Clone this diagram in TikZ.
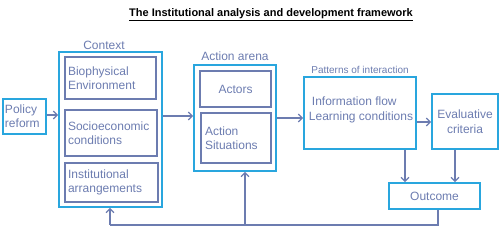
\documentclass[tikz,border=0pt]{standalone}
\usepackage{fontspec}
\setsansfont{Liberation Sans}
\usetikzlibrary{arrows.meta,calc}

\begin{document}
\begin{tikzpicture}[x=1pt,y=-1pt,>={Straight Barb[length=4pt,width=8pt]},font=\sffamily]
\definecolor{frame}{RGB}{41,166,222}
\definecolor{slate}{RGB}{108,124,176}
\tikzset{
  outerbox/.style={draw=frame,line width=1.6pt,inner sep=0pt},
  innerbox/.style={draw=slate,line width=1.5pt,text=slate,inner sep=0pt,
    font=\sffamily\fontsize{12}{14}\selectfont},
  heading/.style={text=slate,font=\sffamily\fontsize{12}{14}\selectfont},
  link/.style={->,draw=slate,line width=1.3pt}
}
\useasboundingbox (0,0) rectangle (500,229);

% Title.
\node[font=\sffamily\bfseries\fontsize{11}{13}\selectfont] (title) at (271,15)
  {\underline{The Institutional analysis and development framework}};

% Policy reform.
\node[outerbox,innerbox,draw=frame,minimum width=43pt,minimum height=35pt,
  text width=39pt,align=left] (policy) at (24.5,116.5) {Policy\\reform};

% Context with its three parts.
\node[outerbox,minimum width=103pt,minimum height=155pt] (context) at (110.5,129.5) {};
\node[heading] (contextlbl) at (104,45) {Context};
\node[innerbox,minimum width=91pt,minimum height=42pt,text width=85pt,align=left]
  (bio) at (110.5,78) {Biophysical\\Environment};
\node[innerbox,minimum width=92pt,minimum height=46pt,text width=86pt,align=left]
  (socio) at (111,133) {Socioeconomic\\conditions};
\node[innerbox,minimum width=93pt,minimum height=39pt,text width=87pt,align=left]
  (inst) at (111.5,182.5) {Institutional\\arrangements};

% Action arena.
\node[outerbox,minimum width=82pt,minimum height=106pt] (arena) at (235,118) {};
\node[heading] (arenalbl) at (235,56) {Action arena};
\node[innerbox,minimum width=71pt,minimum height=36pt] (actors) at (235.5,89) {Actors};
\node[innerbox,minimum width=70pt,minimum height=50pt,text width=62pt,align=left]
  (situations) at (236,138) {Action\\Situations};

% Patterns of interaction.
\node[outerbox,minimum width=112pt,minimum height=72pt] (patterns) at (360,113) {};
\node[text=slate,font=\sffamily\fontsize{10}{12}\selectfont] (patternslbl) at (360,70)
  {Patterns of interaction};
\node[text=slate,font=\sffamily\fontsize{12}{15}\selectfont,align=left,inner sep=0pt]
  (patternstxt) at (361,109.5) {\hspace*{3pt}Information flow\\Learning conditions};

% Evaluative criteria and outcome.
\node[outerbox,minimum width=66pt,minimum height=55pt,text=slate,align=center,
  font=\sffamily\fontsize{12}{15}\selectfont] (criteria) at (465,121.5)
  {Evaluative\\criteria};
\node[outerbox,minimum width=91pt,minimum height=26pt,text=slate,
  font=\sffamily\fontsize{12}{14}\selectfont] (outcome) at (434.5,196) {Outcome};

% Forward links.
\draw[link] (policy.east |- 0,115) -- (context.west |- 0,115);
\draw[link] (context.east |- 0,116) -- (arena.west |- 0,116);
\draw[link] (arena.east |- 0,118) -- (patterns.west |- 0,118);
\draw[link] (patterns.east |- 0,122) -- (criteria.west |- 0,122);
\draw[link] (patterns.south -| 405,0) -- (outcome.north -| 405,0);
\draw[link] (criteria.south -| 455,0) -- (outcome.north -| 455,0);

% Feedback to the context and the action arena.
\coordinate (loopright) at (438,225);
\coordinate (loopleft) at (110,225);
\coordinate (loopmid) at (245,225);
\draw[draw=slate,line width=1.3pt] (outcome.south -| loopright) -- (loopright) -- (loopleft);
\draw[link] (loopleft) -- (context.south -| loopleft);
\draw[link] (loopmid) -- (arena.south -| loopmid);
\end{tikzpicture}
\end{document}
